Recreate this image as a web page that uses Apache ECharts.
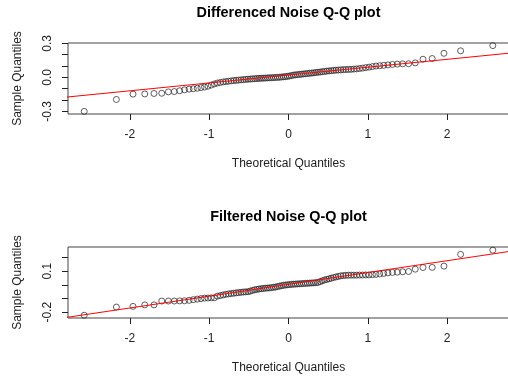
<!DOCTYPE html>
<html>
<head>
<meta charset="utf-8">
<script src="https://cdn.jsdelivr.net/npm/echarts@6/dist/echarts.min.js"></script>
<style>html,body{margin:0;padding:0;background:#fff;}#c{width:508px;height:381px;}</style>
</head>
<body>
<div id="c"></div>
<script>
// Theoretical normal quantiles for n = 100 (upper half; lower half is symmetric)
var upperQuantiles = [0.0125,0.0376,0.0627,0.0878,0.1130,0.1383,0.1637,0.1891,0.2147,0.2404,
  0.2663,0.2924,0.3186,0.3451,0.3719,0.3989,0.4261,0.4538,0.4817,0.5101,
  0.5388,0.5681,0.5978,0.6280,0.6588,0.6903,0.7225,0.7554,0.7892,0.8239,
  0.8596,0.8965,0.9346,0.9741,1.0152,1.0581,1.1031,1.1503,1.2004,1.2536,
  1.3106,1.3722,1.4395,1.5141,1.5982,1.6954,1.8119,1.9600,2.1701,2.5758];
var theoreticalQuantiles = upperQuantiles.slice().reverse().map(function(v){return -v;}).concat(upperQuantiles);

// Sorted sample quantiles
var differencedSample = [-0.300,-0.195,-0.148,-0.146,-0.142,-0.140,-0.128,-0.125,-0.118,-0.110,
  -0.104,-0.100,-0.096,-0.090,-0.085,-0.078,-0.068,-0.058,-0.050,-0.045,
  -0.040,-0.037,-0.034,-0.031,-0.028,-0.026,-0.024,-0.022,-0.020,-0.018,
  -0.016,-0.015,-0.013,-0.012,-0.010,-0.009,-0.008,-0.007,-0.006,-0.005,
  -0.004,-0.003,-0.002,-0.001,0.000,0.001,0.003,0.005,0.007,0.009,
  0.012,0.016,0.020,0.022,0.024,0.026,0.028,0.030,0.032,0.034,
  0.036,0.038,0.040,0.043,0.045,0.047,0.050,0.052,0.055,0.057,
  0.059,0.061,0.063,0.065,0.066,0.068,0.069,0.070,0.071,0.073,
  0.075,0.078,0.082,0.086,0.090,0.095,0.100,0.103,0.106,0.110,
  0.114,0.117,0.119,0.120,0.128,0.160,0.166,0.212,0.234,0.280];
var filteredSample = [-0.222,-0.162,-0.157,-0.146,-0.146,-0.118,-0.118,-0.118,-0.117,-0.116,
  -0.113,-0.108,-0.104,-0.100,-0.097,-0.096,-0.095,-0.094,-0.082,-0.078,
  -0.073,-0.069,-0.066,-0.063,-0.061,-0.058,-0.056,-0.054,-0.052,-0.051,
  -0.050,-0.045,-0.040,-0.036,-0.033,-0.030,-0.028,-0.026,-0.024,-0.023,
  -0.022,-0.020,-0.018,-0.016,-0.012,-0.009,-0.006,-0.003,-0.001,0.001,
  0.002,0.004,0.005,0.006,0.007,0.008,0.009,0.010,0.011,0.012,
  0.013,0.014,0.015,0.016,0.018,0.024,0.030,0.036,0.040,0.044,
  0.049,0.054,0.058,0.062,0.066,0.068,0.070,0.071,0.071,0.071,
  0.071,0.072,0.072,0.073,0.073,0.075,0.077,0.080,0.084,0.088,
  0.091,0.093,0.096,0.098,0.115,0.127,0.128,0.137,0.223,0.254];

// Reference lines (intercept, slope)
var differencedLine = [0.0203, 0.0694];
var filteredLine = [0.0040, 0.0864];

var panelTitles = ['Differenced Noise Q-Q plot', 'Filtered Noise Q-Q plot'];
var xTicks = [-2, -1, 0, 1, 2];
var yTicksTop = [-0.3, -0.2, -0.1, 0.0, 0.1, 0.2, 0.3];
var yLabelsTop = [-0.3, 0.0, 0.3];
var yTicksBottom = [-0.2, -0.1, 0.0, 0.1, 0.2];
var yLabelsBottom = [-0.2, 0.1];
var xRange = [-2.78, 2.78];
var yRangeTop = [-0.323, 0.303];
var yRangeBottom = [-0.242, 0.277];

function pairs(xs, ys){ return xs.map(function(x,i){return [x, ys[i]];}); }
function linePts(p){ return [-3, 3].map(function(x){return [x, p[0] + p[1]*x];}); }

var FONT = 'Liberation Sans, Arial, sans-serif';
var INK = '#222';

function xAxisCfg(gi){
  return {type:'value', gridIndex:gi, min:xRange[0], max:xRange[1],
    name:'Theoretical Quantiles', nameLocation:'middle', nameGap:44,
    nameTextStyle:{fontFamily:FONT, fontSize:12, color:INK},
    axisLine:{show:false, onZero:false},
    axisTick:{show:true, length:6, customValues:xTicks, lineStyle:{color:INK}},
    axisLabel:{customValues:xTicks, margin:15, fontFamily:FONT, fontSize:12, color:INK},
    splitLine:{show:false}};
}
function yAxisCfg(gi, range, ticks, labels){
  return {type:'value', gridIndex:gi, min:range[0], max:range[1],
    name:'Sample Quantiles', nameLocation:'middle', nameGap:44,
    nameTextStyle:{fontFamily:FONT, fontSize:12, color:INK},
    axisLine:{show:false, onZero:false},
    axisTick:{show:true, length:6, customValues:ticks, lineStyle:{color:INK}},
    axisLabel:{customValues:labels, rotate:90, margin:14, fontFamily:FONT, fontSize:12, color:INK,
      formatter:function(v){return v.toFixed(1);}},
    splitLine:{show:false}};
}

var pointStyle = {color:'rgba(0,0,0,0)', borderColor:'#222', borderWidth:0.9};

var chart = echarts.init(document.getElementById('c'), null, {renderer:'canvas'});
chart.setOption({
  backgroundColor:'#fff',
  animation:false,
  title:[
    {text:panelTitles[0], left:288.5, top:6, textAlign:'center', padding:0,
     textStyle:{fontFamily:FONT, fontSize:14.4, fontWeight:'bold', color:'#000'}},
    {text:panelTitles[1], left:288.5, top:210, textAlign:'center', padding:0,
     textStyle:{fontFamily:FONT, fontSize:14.4, fontWeight:'bold', color:'#000'}}
  ],
  grid:[
    {left:68, top:43, width:441, height:71, show:true, borderColor:'#444', borderWidth:1, backgroundColor:'transparent', containLabel:false, outerBoundsMode:'none'},
    {left:68, top:247, width:441, height:71, show:true, borderColor:'#444', borderWidth:1, backgroundColor:'transparent', containLabel:false, outerBoundsMode:'none'}
  ],
  xAxis:[xAxisCfg(0), xAxisCfg(1)],
  yAxis:[yAxisCfg(0, yRangeTop, yTicksTop, yLabelsTop), yAxisCfg(1, yRangeBottom, yTicksBottom, yLabelsBottom)],
  series:[
    {type:'scatter', xAxisIndex:0, yAxisIndex:0, data:pairs(theoreticalQuantiles, differencedSample),
     symbol:'circle', symbolSize:6, itemStyle:pointStyle, z:2},
    {type:'line', xAxisIndex:0, yAxisIndex:0, data:linePts(differencedLine), showSymbol:false, clip:true,
     lineStyle:{color:'#ff0000', width:1}, z:3},
    {type:'scatter', xAxisIndex:1, yAxisIndex:1, data:pairs(theoreticalQuantiles, filteredSample),
     symbol:'circle', symbolSize:6, itemStyle:pointStyle, z:2},
    {type:'line', xAxisIndex:1, yAxisIndex:1, data:linePts(filteredLine), showSymbol:false, clip:true,
     lineStyle:{color:'#ff0000', width:1}, z:3}
  ]
});
</script>
</body>
</html>
